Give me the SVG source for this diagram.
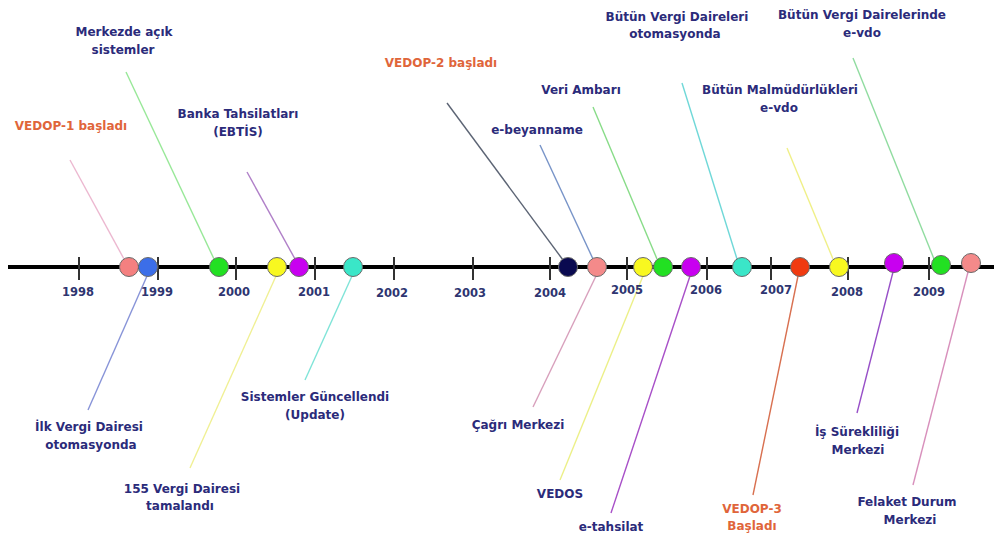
<svg xmlns="http://www.w3.org/2000/svg" width="994" height="536" viewBox="0 0 994 536">
<style>
text{font-family:"DejaVu Sans","Liberation Sans",sans-serif;font-weight:bold;font-size:12px;fill:#2b2b7a;text-anchor:middle}
text.o{fill:#e0653a}
text.y{font-size:11.5px;fill:#2e3570}
.dot{stroke:#6a6a6a;stroke-width:1}
.c line{stroke-width:1.4;fill:none}
.tick{stroke:#333;stroke-width:2}
</style>
<rect width="994" height="536" fill="#ffffff"/>
<g id="connectors" class="c">
<line x1="70" y1="160" x2="124" y2="259" stroke="#ecb8d0"/>
<line x1="126" y1="72" x2="214" y2="259" stroke="#98e898"/>
<line x1="247" y1="172" x2="295" y2="259" stroke="#b080c8"/>
<line x1="447" y1="103" x2="563" y2="260" stroke="#5c6474"/>
<line x1="540" y1="145" x2="593" y2="259" stroke="#7894c8"/>
<line x1="593" y1="107" x2="657" y2="259" stroke="#88dc88"/>
<line x1="682" y1="83" x2="737" y2="259" stroke="#70d8d8"/>
<line x1="787" y1="148" x2="833" y2="259" stroke="#f0f088"/>
<line x1="853" y1="58" x2="934" y2="259" stroke="#90dca0"/>
<line x1="147" y1="276" x2="88" y2="410" stroke="#8894d8"/>
<line x1="276" y1="276" x2="190" y2="468" stroke="#f0f094"/>
<line x1="352" y1="276" x2="305" y2="380" stroke="#80e4d8"/>
<line x1="596" y1="276" x2="533" y2="407" stroke="#d8a0bc"/>
<line x1="643" y1="276" x2="560" y2="480" stroke="#ecf088"/>
<line x1="690" y1="276" x2="611" y2="513" stroke="#a850c8"/>
<line x1="798" y1="276" x2="753" y2="495" stroke="#d87050"/>
<line x1="893" y1="272" x2="857" y2="413" stroke="#9850c8"/>
<line x1="968" y1="272" x2="913" y2="485" stroke="#d890bc"/>
</g>
<g id="axis">
<line x1="8" y1="267" x2="994" y2="267" stroke="#000" stroke-width="4"/>
<line class="tick" x1="79" y1="257" x2="79" y2="280"/>
<line class="tick" x1="158" y1="257" x2="158" y2="280"/>
<line class="tick" x1="236" y1="257" x2="236" y2="280"/>
<line class="tick" x1="315" y1="257" x2="315" y2="280"/>
<line class="tick" x1="394" y1="257" x2="394" y2="280"/>
<line class="tick" x1="473" y1="257" x2="473" y2="280"/>
<line class="tick" x1="550" y1="257" x2="550" y2="280"/>
<line class="tick" x1="627" y1="257" x2="627" y2="280"/>
<line class="tick" x1="707" y1="257" x2="707" y2="280"/>
<line class="tick" x1="771" y1="257" x2="771" y2="280"/>
<line class="tick" x1="848" y1="257" x2="848" y2="280"/>
<line class="tick" x1="929" y1="257" x2="929" y2="280"/>
<text class="y" x="78" y="296">1998</text>
<text class="y" x="157" y="296">1999</text>
<text class="y" x="234" y="296">2000</text>
<text class="y" x="314" y="296">2001</text>
<text class="y" x="392" y="297">2002</text>
<text class="y" x="470" y="297">2003</text>
<text class="y" x="550" y="297">2004</text>
<text class="y" x="627" y="294">2005</text>
<text class="y" x="706" y="294">2006</text>
<text class="y" x="776" y="294">2007</text>
<text class="y" x="847" y="296">2008</text>
<text class="y" x="929" y="296">2009</text>
</g>
<g id="vedop1"><circle class="dot" cx="129" cy="267" r="9.5" fill="#f48080"/><text class="o" x="71" y="130">VEDOP-1 başladı</text></g>
<g id="ilk-vd"><circle class="dot" cx="148" cy="267" r="9.5" fill="#3c6ee8"/><text x="89" y="431">İlk Vergi Dairesi</text><text x="91" y="449">otomasyonda</text></g>
<g id="merkezde"><circle class="dot" cx="219" cy="267" r="9.5" fill="#22e022"/><text x="124" y="36">Merkezde açık</text><text x="123" y="54">sistemler</text></g>
<g id="vd155"><circle class="dot" cx="277" cy="267" r="9.5" fill="#f8f820"/><text x="182" y="493">155 Vergi Dairesi</text><text x="180" y="510">tamalandı</text></g>
<g id="banka"><circle class="dot" cx="299" cy="267" r="9.5" fill="#c800f0"/><text x="238" y="118">Banka Tahsilatları</text><text x="238" y="136">(EBTİS)</text></g>
<g id="update"><circle class="dot" cx="353" cy="267" r="9.5" fill="#3ae6c8"/><text x="315" y="401">Sistemler Güncellendi</text><text x="315" y="419">(Update)</text></g>
<g id="vedop2"><circle class="dot" cx="568" cy="267" r="9.5" fill="#0a0a50"/><text class="o" x="441" y="67">VEDOP-2 başladı</text></g>
<g id="ebeyan"><circle class="dot" cx="597" cy="267" r="9.5" fill="#f48a8a"/><text x="537" y="134">e-beyanname</text></g>
<g id="cagri"><text x="518" y="429">Çağrı Merkezi</text></g>
<g id="vedos"><circle class="dot" cx="643" cy="267" r="9.5" fill="#f8f820"/><text x="560" y="498">VEDOS</text></g>
<g id="veri"><circle class="dot" cx="663" cy="267" r="9.5" fill="#22e022"/><text x="581" y="94">Veri Ambarı</text></g>
<g id="etahsilat"><circle class="dot" cx="691" cy="267" r="9.5" fill="#c800f0"/><text x="611" y="531">e-tahsilat</text></g>
<g id="butun-vd"><circle class="dot" cx="742" cy="267" r="9.5" fill="#3ae6c8"/><text x="677" y="21">Bütün Vergi Daireleri</text><text x="675" y="38">otomasyonda</text></g>
<g id="vedop3"><circle class="dot" cx="800" cy="267" r="9.5" fill="#f03a10"/><text class="o" x="752" y="513">VEDOP-3</text><text class="o" x="752" y="530">Başladı</text></g>
<g id="malmud"><circle class="dot" cx="839" cy="267" r="9.5" fill="#f8f820"/><text x="780" y="94">Bütün Malmüdürlükleri</text><text x="779" y="112">e-vdo</text></g>
<g id="is-surek"><circle class="dot" cx="894" cy="263" r="9.5" fill="#c800f0"/><text x="857" y="436">İş Sürekliliği</text><text x="858" y="454">Merkezi</text></g>
<g id="dairelerinde"><circle class="dot" cx="941" cy="265" r="9.5" fill="#22e022"/><text x="862" y="19">Bütün Vergi Dairelerinde</text><text x="862" y="37">e-vdo</text></g>
<g id="felaket"><circle class="dot" cx="971" cy="263" r="9.5" fill="#f48a8a"/><text x="907" y="506">Felaket Durum</text><text x="910" y="524">Merkezi</text></g>
</svg>
